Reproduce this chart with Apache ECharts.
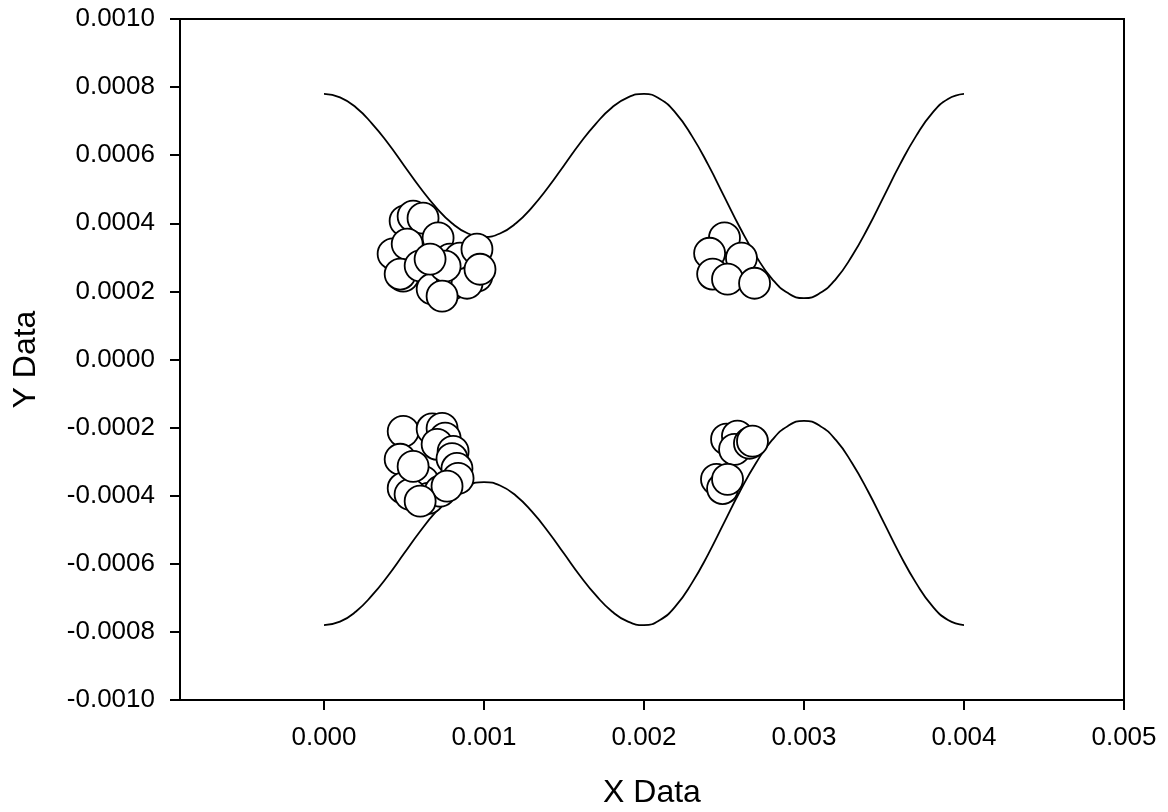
<!DOCTYPE html>
<html>
<head>
<meta charset="utf-8">
<script src="https://cdn.jsdelivr.net/npm/echarts@6/dist/echarts.min.js"></script>
<style>html,body{margin:0;padding:0;background:#fff}#c{width:1168px;height:812px}</style>
</head>
<body>
<div id="c"></div>
<script>
const xTickValues = [0, 0.001, 0.002, 0.003, 0.004, 0.005];
const curveX = [0,0.0001,0.0002,0.0003,0.0004,0.0005,0.0006,0.0007,0.0008,0.0009,0.001,
  0.0011,0.0012,0.0013,0.0014,0.0015,0.0016,0.0017,0.0018,0.0019,0.002,
  0.0021,0.0022,0.0023,0.0024,0.0025,0.0026,0.0027,0.0028,0.0029,0.003,
  0.0031,0.0032,0.0033,0.0034,0.0035,0.0036,0.0037,0.0038,0.0039,0.004];
const upperY = [0.00078,0.000770,0.000740,0.000693,0.000635,0.000570,0.000505,0.000447,0.000400,0.000370,0.000360,
  0.000370,0.000400,0.000447,0.000505,0.000570,0.000635,0.000693,0.000740,0.000770,0.00078,
  0.000765,0.000723,0.000656,0.000573,0.000480,0.000387,0.000304,0.000237,0.000195,0.000180,
  0.000195,0.000237,0.000304,0.000387,0.000480,0.000573,0.000656,0.000723,0.000765,0.00078];
const lowerY = [-0.00078,-0.000770,-0.000740,-0.000693,-0.000635,-0.000570,-0.000505,-0.000447,-0.000400,-0.000370,-0.000360,
  -0.000370,-0.000400,-0.000447,-0.000505,-0.000570,-0.000635,-0.000693,-0.000740,-0.000770,-0.00078,
  -0.000765,-0.000723,-0.000656,-0.000573,-0.000480,-0.000387,-0.000304,-0.000237,-0.000195,-0.000180,
  -0.000195,-0.000237,-0.000304,-0.000387,-0.000480,-0.000573,-0.000656,-0.000723,-0.000765,-0.00078];
const pointsX = [0.000507,0.000557,0.000619,0.000713,0.000432,0.000520,0.000495,0.000476,0.000601,0.000676,
  0.000800,0.000788,0.000850,0.000956,0.000956,0.000894,0.000757,0.000663,0.000738,0.000975,
  0.002503,0.002410,0.002609,0.002429,0.002522,0.002691,
  0.000495,0.000476,0.000676,0.000738,0.000757,0.000707,0.000807,0.000800,0.000831,0.000838,
  0.000538,0.000495,0.000619,0.000651,0.000726,0.000769,0.000538,0.000601,0.000557,
  0.002516,0.002584,0.002566,0.002659,0.002678,0.002453,0.002491,0.002522];
const pointsY = [0.000407,0.000421,0.000415,0.000357,0.000310,0.000339,0.000245,0.000251,0.000275,0.000207,
  0.000221,0.000295,0.000298,0.000324,0.000245,0.000224,0.000274,0.000295,0.000186,0.000265,
  0.000357,0.000312,0.000298,0.000251,0.000236,0.000224,
  -0.000211,-0.000293,-0.000204,-0.000202,-0.000231,-0.000249,-0.000270,-0.000291,-0.000320,-0.000349,
  -0.000364,-0.000378,-0.000358,-0.000408,-0.000387,-0.000372,-0.000396,-0.000416,-0.000314,
  -0.000234,-0.000225,-0.000264,-0.000246,-0.000240,-0.000352,-0.000379,-0.000352];

const FONT = 'Arial, "Liberation Sans", sans-serif';
const chart = echarts.init(document.getElementById('c'), null, {renderer: 'canvas'});
chart.setOption({
  animation: false,
  backgroundColor: '#fff',
  textStyle: {fontFamily: FONT, color: '#000'},
  grid: {left: 180, right: 44, top: 19, bottom: 112, show: true, borderColor: '#000', borderWidth: 2,
    containLabel: false, outerBoundsMode: 'none'},
  xAxis: {
    type: 'value', min: -0.0009, max: 0.005,
    name: 'X Data', nameLocation: 'middle', nameGap: 77,
    nameTextStyle: {fontSize: 32, fontFamily: FONT, color: '#000'},
    axisLine: {show: true, onZero: false, lineStyle: {color: '#000', width: 2}},
    axisTick: {show: true, inside: false, length: 10, lineStyle: {color: '#000', width: 2}, customValues: xTickValues},
    axisLabel: {fontSize: 26, fontFamily: FONT, color: '#000', margin: 25, customValues: xTickValues,
      formatter: v => v.toFixed(3)},
    splitLine: {show: false}
  },
  yAxis: {
    type: 'value', min: -0.001, max: 0.001, interval: 0.0002,
    name: 'Y Data', nameLocation: 'middle', nameGap: 138,
    nameTextStyle: {fontSize: 32, fontFamily: FONT, color: '#000'},
    axisLine: {show: true, onZero: false, lineStyle: {color: '#000', width: 2}},
    axisTick: {show: true, inside: false, length: 10, lineStyle: {color: '#000', width: 2}},
    axisLabel: {fontSize: 26, fontFamily: FONT, color: '#000', margin: 25,
      formatter: v => (Math.abs(v) < 1e-12 ? 0 : v).toFixed(4)},
    splitLine: {show: false}
  },
  series: [
    {type: 'line', data: curveX.map((x, i) => [x, upperY[i]]), smooth: true, showSymbol: false,
      lineStyle: {color: '#000', width: 1.8}, z: 2},
    {type: 'line', data: curveX.map((x, i) => [x, lowerY[i]]), smooth: true, showSymbol: false,
      lineStyle: {color: '#000', width: 1.8}, z: 2},
    {type: 'scatter', data: pointsX.map((x, i) => [x, pointsY[i]]), symbol: 'circle', symbolSize: 31,
      itemStyle: {color: '#fff', borderColor: '#000', borderWidth: 1.8, opacity: 1}, z: 3}
  ]
});
</script>
</body>
</html>
